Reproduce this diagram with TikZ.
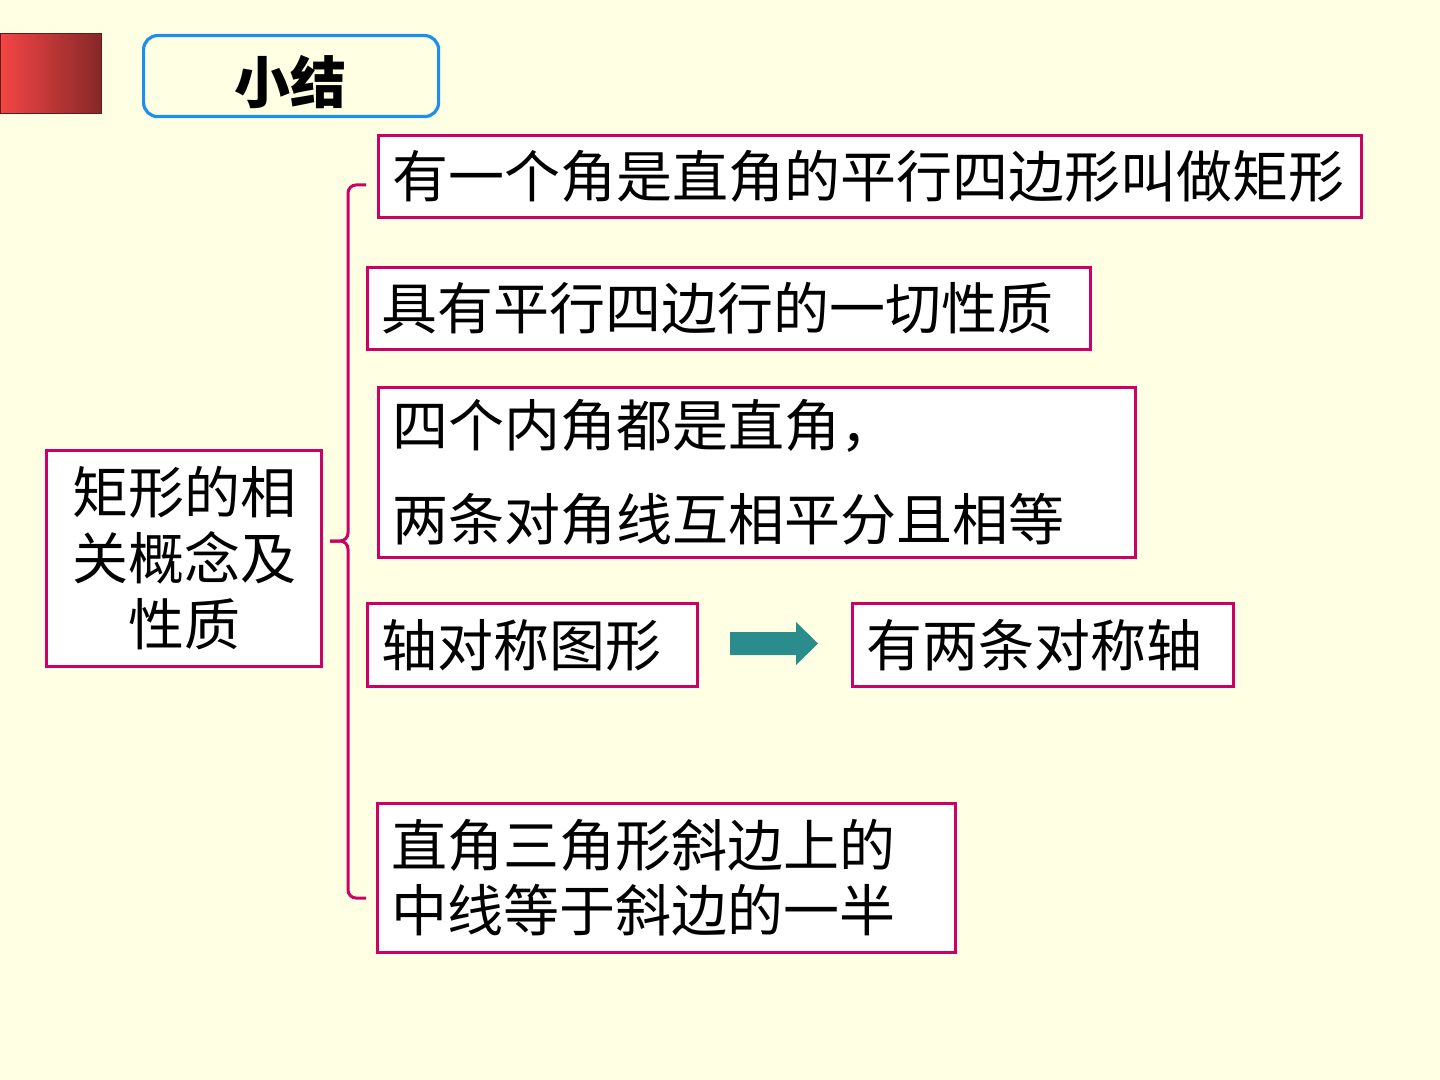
\documentclass[tikz,border=0pt]{standalone}
\usepackage{fontspec}
\setmainfont{Noto Sans CJK SC}
\definecolor{bg}{HTML}{FFFFE3}
\definecolor{mag}{HTML}{CC0066}
\definecolor{tblue}{HTML}{1E8FEF}
\definecolor{teal}{HTML}{2A8C8C}
\definecolor{redA}{HTML}{F54545}
\definecolor{redB}{HTML}{862828}
\begin{document}
\begin{tikzpicture}[x=0.5pt,y=-0.5pt,
  box/.style={draw=mag,line width=1.5pt,fill=white,anchor=north west,align=left,
    inner xsep=7pt,inner ysep=0pt,font=\fontsize{28pt}{34pt}\selectfont},
  bracestyle/.style={draw=mag,line width=1.5pt,rounded corners=4pt}]
\fill[bg] (0,0) rectangle (1440,1080);
\useasboundingbox (0,0) rectangle (1440,1080);
% red square
\shade[left color=redA,right color=redB] (0,34) rectangle (101,114);
\draw[redB!70!black,line width=0.5pt] (0,34) rectangle (101,114);
% title
\node[draw=tblue,line width=1.6pt,rounded corners=7pt,anchor=north west,
  minimum width=147.5pt,minimum height=40.5pt,inner sep=0pt] (title) at (142,34) {};
\node[font=\fontsize{28pt}{34pt}\selectfont\bfseries] (titletext) at (290,82) {小结};
% left box
\node[box,align=center,text width=123.5pt,minimum height=108pt,
  font=\fontsize{28pt}{33pt}\selectfont] (main) at (45,449) {矩形的相\\关概念及\\性质};
% boxes
\node[box,text width=477.5pt,minimum height=41pt] (b1) at (377,134) {有一个角是直角的平行四边形叫做矩形};
\node[box,text width=347.5pt,minimum height=41pt] (b2) at (366,266) {具有平行四边行的一切性质};
\node[box,text width=364.5pt,minimum height=85pt,
  font=\fontsize{28pt}{47pt}\selectfont] (b3) at (377,386) {四个内角都是直角，\\两条对角线互相平分且相等};
\node[box,text width=151pt,minimum height=41.5pt] (b4) at (366,602) {轴对称图形};
\node[box,text width=176.5pt,minimum height=41.5pt] (b6) at (851,602) {有两条对称轴};
\node[box,text width=275pt,minimum height=74.5pt,
  font=\fontsize{28pt}{32.5pt}\selectfont] (b7) at (376,802) {直角三角形斜边上的\\中线等于斜边的一半};
% brace
\coordinate (btop) at (366,185);
\coordinate (bbot) at (366,898);
\coordinate (btip) at (330,541);
\draw[bracestyle] (btop) -- (348,185) -- (348,541) -- (btip);
\draw[bracestyle] (btip) -- (348,541) -- (348,898) -- (bbot);
% block arrow
\fill[teal] (730,632) -- (796,632) -- (796,622) -- (818,643.5) -- (796,665) -- (796,655) -- (730,655) -- cycle;
\end{tikzpicture}
\end{document}
